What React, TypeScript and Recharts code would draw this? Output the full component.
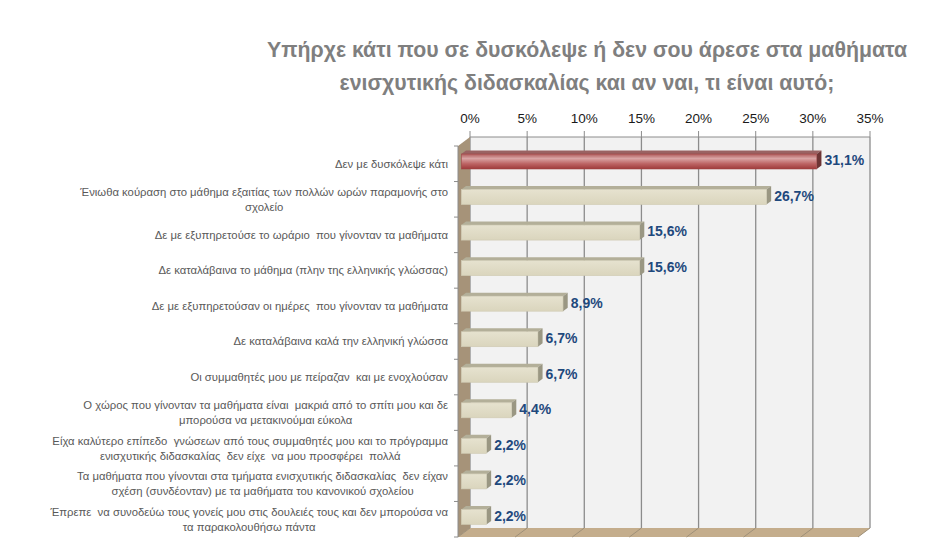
import React from 'react'
import { BarChart, Bar, XAxis, YAxis, CartesianGrid, LabelList, Customized } from 'recharts'

const categories = [
  'Δεν με δυσκόλεψε κάτι',
  'Ένιωθα κούραση στο μάθημα εξαιτίας των πολλών ωρών παραμονής στο\nσχολείο',
  'Δε με εξυπηρετούσε το ωράριο  που γίνονταν τα μαθήματα',
  'Δε καταλάβαινα το μάθημα (πλην της ελληνικής γλώσσας)',
  'Δε με εξυπηρετούσαν οι ημέρες  που γίνονταν τα μαθήματα',
  'Δε καταλάβαινα καλά την ελληνική γλώσσα',
  'Οι συμμαθητές μου με πείραζαν  και με ενοχλούσαν',
  'Ο χώρος που γίνονταν τα μαθήματα είναι  μακριά από το σπίτι μου και δε\nμπορούσα να μετακινούμαι εύκολα',
  'Είχα καλύτερο επίπεδο  γνώσεων από τους συμμαθητές μου και το πρόγραμμα\nενισχυτικής διδασκαλίας  δεν είχε  να μου προσφέρει  πολλά',
  'Τα μαθήματα που γίνονται στα τμήματα ενισχυτικής διδασκαλίας  δεν είχαν\nσχέση (συνδέονταν) με τα μαθήματα του κανονικού σχολείου',
  'Έπρεπε  να συνοδεύω τους γονείς μου στις δουλειές τους και δεν μπορούσα να\nτα παρακολουθήσω πάντα',
]
const values = [31.1, 26.7, 15.6, 15.6, 8.9, 6.7, 6.7, 4.4, 2.2, 2.2, 2.2]
const xTicks = [0, 5, 10, 15, 20, 25, 30, 35]
const titleLines = [
  'Υπήρχε κάτι που σε δυσκόλεψε ή δεν σου άρεσε στα μαθήματα',
  'ενισχυτικής διδασκαλίας και αν ναι, τι είναι αυτό;',
]

const data = categories.map((label, i) => ({ label, value: values[i] }))

// plot box (back wall) and 3d depth
const W = 935
const H = 554
const LEFT = 470
const RIGHT = 870
const TOP = 137
const BOTTOM = 528
const DX = -12
const DY = 9
const FONT = "'Liberation Sans', Arial, sans-serif"
const LABEL_SIZE = 11.3

const fmt = (v: number) => v.toFixed(1).replace('.', ',') + '%'

function Walls() {
  const rowH = (BOTTOM - TOP) / categories.length
  return (
    <g>
      <defs>
        <linearGradient id="redFront" x1="0" y1="0" x2="0" y2="1">
          <stop offset="0%" stopColor="#b05c5c" />
          <stop offset="30%" stopColor="#d9a4a4" />
          <stop offset="65%" stopColor="#bd6464" />
          <stop offset="100%" stopColor="#9e3a3a" />
        </linearGradient>
        <linearGradient id="beigeFront" x1="0" y1="0" x2="0" y2="1">
          <stop offset="0%" stopColor="#e6e2cf" />
          <stop offset="100%" stopColor="#dad5bd" />
        </linearGradient>
      </defs>
      {/* left wall */}
      <polygon points={`${LEFT + DX},${TOP + DY} ${LEFT},${TOP} ${LEFT},${BOTTOM} ${LEFT + DX},${BOTTOM + DY}`} fill="#a69379" />
      {/* floor */}
      <polygon points={`${LEFT},${BOTTOM} ${RIGHT},${BOTTOM} ${RIGHT + DX},${BOTTOM + DY} ${LEFT + DX},${BOTTOM + DY}`} fill="#c4ad8c" />
      {xTicks.map((t) => {
        const x = LEFT + ((RIGHT - LEFT) * t) / 35
        return <line key={t} x1={x} y1={BOTTOM} x2={x + DX} y2={BOTTOM + DY} stroke="#9f9078" strokeWidth={1} />
      })}
      {/* front axis line + ticks */}
      <line x1={LEFT + DX} y1={TOP + DY} x2={LEFT + DX} y2={BOTTOM + DY} stroke="#8c8c8c" />
      {categories.map((_, i) => (
        <line key={i} x1={LEFT + DX - 4} y1={TOP + DY + i * rowH} x2={LEFT + DX} y2={TOP + DY + i * rowH} stroke="#8c8c8c" />
      ))}
      <line x1={LEFT + DX - 4} y1={BOTTOM + DY} x2={LEFT + DX} y2={BOTTOM + DY} stroke="#8c8c8c" />
    </g>
  )
}

function Bar3D(props: any) {
  const { x, y, width, height, index } = props
  const red = index === 0
  const fx = x - 8.7
  const fy = y + 7
  const fw = width
  const fh = height
  const ox = 4.7
  const oy = -3.5
  return (
    <g>
      <polygon
        points={`${fx},${fy} ${fx + fw},${fy} ${fx + fw + ox},${fy + oy} ${fx + ox},${fy + oy}`}
        fill={red ? '#9a6262' : '#b3af99'}
      />
      <polygon
        points={`${fx + fw},${fy} ${fx + fw + ox},${fy + oy} ${fx + fw + ox},${fy + fh + oy} ${fx + fw},${fy + fh}`}
        fill={red ? '#6d3434' : '#9a9783'}
      />
      <rect x={fx} y={fy} width={fw} height={fh} fill={red ? 'url(#redFront)' : 'url(#beigeFront)'} stroke={red ? '#a04848' : '#cfcab3'} strokeWidth={0.6} />
    </g>
  )
}

function CenteredBlock({ lines, start, lh }: any) {
  const ref = React.useRef<SVGTextElement>(null)
  const [w, setW] = React.useState(0)
  React.useLayoutEffect(() => {
    if (ref.current) setW(ref.current.getComputedTextLength())
  }, [])
  const cx = 448 - w / 2
  return (
    <g>
      {lines.map((l: string, i: number) => (
        <text
          key={i}
          ref={i === 0 ? ref : undefined}
          x={i === 0 ? 448 : cx}
          y={start + i * lh}
          dy="0.35em"
          textAnchor={i === 0 ? 'end' : 'middle'}
          fontSize={LABEL_SIZE}
          fill="#595959"
          fontFamily={FONT}
          style={{ whiteSpace: 'pre' }}
        >
          {l}
        </text>
      ))}
    </g>
  )
}

function CategoryTick(props: any) {
  const { y, payload } = props
  const lines = String(payload.value).split('\n')
  const lh = 15
  const cy = y + DY
  if (lines.length === 1) {
    return (
      <text x={448} y={cy} dy="0.35em" textAnchor="end" fontSize={LABEL_SIZE} fill="#595959" fontFamily={FONT} style={{ whiteSpace: 'pre' }}>
        {lines[0]}
      </text>
    )
  }
  // two-line labels: lines centred on each other, block right-aligned
  return <CenteredBlock lines={lines} start={cy - lh / 2} lh={lh} />
}

export default function App() {
  return (
    <div style={{ position: 'absolute', left: 0, top: 0, width: W, height: H, background: '#fff' }}>
      <div
        style={{
          position: 'absolute',
          left: 240,
          width: 694,
          top: 34,
          textAlign: 'center',
          fontFamily: FONT,
          fontWeight: 'bold',
          fontSize: 21.3,
          lineHeight: '33px',
          color: '#7f7f7f',
        }}
      >
        {titleLines.map((t) => (
          <div key={t}>{t}</div>
        ))}
      </div>
      <BarChart
        width={W}
        height={H}
        layout="vertical"
        data={data}
        margin={{ top: 107, right: W - RIGHT, bottom: H - BOTTOM, left: 0 }}
        barCategoryGap={0}
      >
        <CartesianGrid horizontal={false} vertical fill="#f2f2f2" stroke="#8c8c8c" strokeWidth={1.3} />
        <Customized component={Walls} />
        <XAxis
          type="number"
          orientation="top"
          domain={[0, 35]}
          ticks={xTicks}
          tickFormatter={(v) => v + '%'}
          height={30}
          axisLine={{ stroke: '#8c8c8c' }}
          tickLine={{ stroke: '#8c8c8c' }}
          tickSize={6}
          tickMargin={8}
          tick={{ fill: '#1a1a1a', fontSize: 13.5, fontFamily: FONT }}
        />
        <YAxis
          type="category"
          dataKey="label"
          width={LEFT}
          axisLine={false}
          tickLine={false}
          interval={0}
          tick={<CategoryTick />}
        />
        <Bar dataKey="value" barSize={15} isAnimationActive={false} shape={<Bar3D />}>
          <LabelList
            dataKey="value"
            content={(p: any) => (
              <text
                x={p.x + p.width - 1}
                y={p.y + p.height / 2 + 6}
                dy="0.35em"
                fontSize={14}
                fontWeight="bold"
                fill="#1f497d"
                fontFamily={FONT}
              >
                {fmt(p.value)}
              </text>
            )}
          />
        </Bar>
      </BarChart>
    </div>
  )
}
